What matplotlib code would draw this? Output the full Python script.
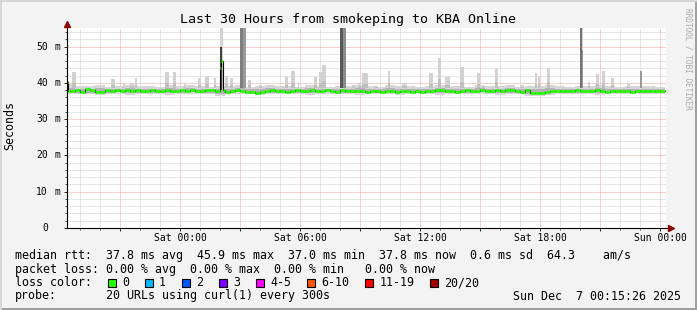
import numpy as np
import matplotlib
matplotlib.use('Agg')
import matplotlib.pyplot as plt
from matplotlib.patches import Rectangle
import matplotlib.transforms as mtransforms

W, H = 697, 310

title = "Last 30 Hours from smokeping to KBA Online"
y_label = "Seconds"
watermark = "RRDTOOL / TOBI OETIKER"
x_tick_hours = [0, 6, 12, 18, 24]
x_tick_labels = ["Sat 00:00", "Sat 06:00", "Sat 12:00", "Sat 18:00", "Sun 00:00"]
y_tick_values = [0, 10, 20, 30, 40, 50]
y_tick_numbers = ["0", "10", "20", "30", "40", "50"]
y_tick_units = ["", "m", "m", "m", "m", "m"]

# time in hours relative to Sat 00:00
t_start = -5.75
median_step = 0.25
median_ms = [
    37.8, 37.7, 37.9, 37.6, 38.4, 37.9, 37.4, 37.6, 37.9, 37.8,
    38.0, 37.7, 37.9, 37.8, 37.9, 37.7, 37.8, 38.0, 37.8, 37.7,
    37.9, 37.8, 37.7, 38.0, 37.8, 37.9, 37.8, 37.7, 38.0, 37.9,
    37.8, 37.9, 37.6, 37.8, 37.9, 37.7, 37.6, 37.5, 37.1, 37.6,
    37.8, 37.9, 37.7, 37.8, 37.6, 37.8, 37.9, 37.7, 37.8, 37.9,
    37.7, 37.8, 37.9, 37.8, 37.6, 37.9, 37.7, 37.8, 37.8, 37.7,
    37.6, 37.8, 37.7, 37.6, 37.8, 37.7, 37.6, 37.8, 37.7, 37.6,
    37.7, 37.6, 37.8, 37.7, 37.9, 38.0, 37.8, 37.7, 37.6, 37.8,
    37.9, 37.7, 37.8, 38.0, 37.8, 37.7, 37.9, 37.8, 38.1, 37.9,
    37.8, 37.6, 37.9, 37.3, 37.1, 37.2, 37.5, 37.7, 37.8, 37.7,
    37.8, 37.7, 37.9, 37.7, 37.8, 37.7, 37.9, 37.8, 37.6, 37.8,
    37.7, 37.8, 37.7, 37.6, 37.7, 37.8, 37.7, 37.8, 37.7, 37.8]
median_spike_start = [-5.75, 2.0, 2.07]
median_spike_end = [-5.6, 2.07, 2.15]
median_spike_ms = [40.3, 44.2, 45.9]

smoke_step = 0.5
smoke_max_ms = [
    39.6, 39.2, 39.0, 39.4, 38.9, 39.1, 39.5, 39.0, 39.2, 38.9,
    39.3, 39.0, 39.4, 39.1, 38.8, 39.2, 39.0, 39.3, 38.9, 39.1,
    39.4, 39.0, 39.2, 38.9, 39.3, 39.1, 38.8, 39.2, 39.0, 39.4,
    39.1, 38.9, 39.3, 39.0, 39.2, 38.8, 39.1, 39.4, 39.0, 39.2,
    38.9, 39.3, 39.1, 39.0, 39.4, 38.9, 39.2, 39.0, 39.3, 39.1,
    38.9, 39.2, 39.0, 39.3, 39.1, 38.9, 39.2, 39.0, 39.1, 38.9]
smoke_min_ms = [
    37.0, 36.8, 36.9, 36.6, 36.8, 37.0, 36.7, 36.9, 36.8, 37.0,
    36.7, 36.9, 37.0, 36.8, 36.9, 36.5, 36.8, 37.0, 36.9, 36.7,
    36.8, 37.0, 36.9, 36.8, 36.7, 36.9, 37.0, 36.8, 36.9, 36.7,
    36.9, 36.8, 37.0, 36.7, 36.9, 36.8, 36.8, 36.7, 36.8, 36.9,
    36.8, 37.0, 36.9, 36.7, 36.8, 36.9, 36.4, 36.4, 36.7, 36.8,
    36.9, 36.8, 37.0, 36.7, 36.9, 36.8, 37.0, 36.9, 36.8, 36.9]
smoke_lo_ms = [
    37.4, 37.2, 37.3, 37.1, 37.3, 37.4, 37.2, 37.3, 37.2, 37.4,
    37.2, 37.3, 37.4, 37.2, 37.3, 37.0, 37.2, 37.4, 37.3, 37.2,
    37.3, 37.4, 37.3, 37.2, 37.2, 37.3, 37.4, 37.2, 37.3, 37.2,
    37.3, 37.2, 37.4, 37.2, 37.3, 37.2, 37.2, 37.1, 37.2, 37.3,
    37.2, 37.4, 37.3, 37.2, 37.2, 37.3, 36.8, 36.8, 37.1, 37.2,
    37.3, 37.2, 37.4, 37.2, 37.3, 37.2, 37.4, 37.3, 37.2, 37.3]
smoke_hi_ms = [
    38.6, 38.4, 38.3, 38.5, 38.2, 38.4, 38.6, 38.3, 38.4, 38.2,
    38.5, 38.3, 38.6, 38.4, 38.2, 38.4, 38.3, 38.5, 38.2, 38.4,
    38.6, 38.3, 38.4, 38.2, 38.5, 38.4, 38.2, 38.4, 38.3, 38.6,
    38.4, 38.2, 38.5, 38.3, 38.4, 38.2, 38.4, 38.6, 38.3, 38.4,
    38.2, 38.5, 38.4, 38.3, 38.6, 38.2, 38.3, 38.2, 38.5, 38.4,
    38.2, 38.4, 38.3, 38.5, 38.4, 38.2, 38.4, 38.3, 38.4, 38.2]

# light smoke spikes (single slow pings)
spike_start = [-5.4, -3.45, -2.85, -2.5, -2.25, -0.75, -0.35, 0.2, 0.9, 1.25,
               1.7, 1.98, 2.25, 2.5, 3.4, 3.95, 5.25, 5.55, 5.9, 6.7,
               6.95, 7.1, 8.6, 8.9, 9.1, 9.75, 10.4, 11.1, 12.45, 12.9,
               13.25, 14.0, 14.85, 15.1, 15.75, 17.0, 17.75, 17.9, 18.35, 20.4,
               20.8, 21.1, 21.55, 22.35, 19.98]
spike_end = [-5.2, -3.25, -2.75, -2.3, -2.15, -0.55, -0.2, 0.3, 1.05, 1.45,
             1.8, 2.16, 2.4, 2.65, 3.55, 4.1, 5.4, 5.75, 5.95, 6.85,
             7.1, 7.3, 8.75, 9.05, 9.4, 9.9, 10.5, 11.35, 12.65, 13.05,
             13.5, 14.2, 15.0, 15.25, 15.9, 17.2, 17.85, 18.0, 18.5, 20.5,
             20.95, 21.25, 21.7, 22.5, 20.16]
spike_top = [43.0, 41.0, 39.6, 40.0, 41.3, 43.0, 43.0, 39.6, 41.3, 42.0,
             41.3, 60.0, 42.0, 41.3, 40.8, 39.4, 41.6, 43.2, 40.1, 41.6,
             43.0, 44.9, 39.4, 40.0, 42.6, 39.0, 43.2, 40.0, 42.6, 46.9,
             41.5, 44.4, 42.6, 39.0, 43.8, 39.4, 42.6, 42.0, 44.0, 40.3,
             42.4, 43.2, 41.3, 39.8, 60.0]

# dense smoke columns (many slow pings)
tall_start = [1.98, 3.02, 3.15, 8.02, 8.15, 19.98, 20.08, 22.98]
tall_end = [2.12, 3.15, 3.28, 8.15, 8.28, 20.08, 20.16, 23.1]
tall_bottom = [38.0, 38.6, 38.6, 38.6, 38.6, 38.6, 38.6, 38.6]
tall_top = [50.0, 60.0, 60.0, 60.0, 60.0, 60.0, 49.0, 43.2]
tall_pings = [12, 7, 5, 10, 6, 8, 5, 5]

stats_lines = [
    "median rtt:  37.8 ms avg  45.9 ms max  37.0 ms min  37.8 ms now  0.6 ms sd  64.3    am/s",
    "packet loss: 0.00 % avg  0.00 % max  0.00 % min   0.00 % now",
]
loss_title = "loss color:"
loss_labels = ["0", "1", "2", "3", "4-5", "6-10", "11-19", "20/20"]
loss_colors = ["#26ff00", "#00b8ff", "#0059ff", "#7e00ff", "#ff00ff", "#ff5500", "#ff0000", "#a10000"]
probe_label = "probe:"
probe_text = "20 URLs using curl(1) every 300s"
date_text = "Sun Dec  7 00:15:26 2025"

# ---------------------------------------------------------------
plt.rcParams['font.family'] = ['DejaVu Sans Mono', 'DejaVu Sans']
BG = '#f3f3f3'
fig = plt.figure(figsize=(W / 100, H / 100), dpi=100)
fig.patch.set_facecolor(BG)


def fx(x):
    return x / W


def fy(y):
    return 1 - y / H


ax = fig.add_axes([fx(67), fy(228), 599 / W, 200 / H])
ax.set_facecolor('white')
ax.set_xlim(-5.65, 24.3)
ax.set_ylim(0, 55.1)
for s in ax.spines.values():
    s.set_visible(False)

dot = (0, (1, 1))
for h in range(-5, 25):
    major = (h % 3 == 0)
    ax.axvline(h, color='#f2a0a0' if major else '#cccccc', lw=0.72, ls=dot, zorder=0.5)
for v in range(2, 56, 2):
    major = (v % 10 == 0)
    ax.axhline(v, color='#f2a0a0' if major else '#cccccc', lw=0.72, ls=dot, zorder=0.5)


def step_xy(start, step, vals):
    x = start + step * np.arange(len(vals) + 1)
    y = np.append(np.asarray(vals, float), vals[-1])
    return x, y


sx, smax = step_xy(t_start, smoke_step, smoke_max_ms)
_, smin = step_xy(t_start, smoke_step, smoke_min_ms)
_, slo = step_xy(t_start, smoke_step, smoke_lo_ms)
_, shi = step_xy(t_start, smoke_step, smoke_hi_ms)
ax.fill_between(sx, smin, smax, step='post', color='#d6d6d6', lw=0, zorder=1)

for a, b, top in zip(spike_start, spike_end, spike_top):
    ax.add_patch(Rectangle((a, 38.6), b - a, top - 38.6, facecolor='#d2d2d2', lw=0, zorder=1.2))
    core = 38.6 + 0.3 * (min(top, 55) - 38.6)
    ax.add_patch(Rectangle((a, 38.6), b - a, core - 38.6, facecolor='#bfbfbf', lw=0, zorder=1.3))

ax.fill_between(sx, slo, shi, step='post', color='#b3b3b3', lw=0, zorder=1.5)

for a, b, lo, top, n in zip(tall_start, tall_end, tall_bottom, tall_top, tall_pings):
    g = max(0.2, 0.85 - 0.05 * n)
    ax.add_patch(Rectangle((a, lo), b - a, top - lo, facecolor=(g, g, g), lw=0, zorder=2))

# median series (step) with spike overrides
mt = list(t_start + median_step * np.arange(len(median_ms)))
pts = {}
for t, v in zip(mt, median_ms):
    pts[round(t, 4)] = v
spike_starts_r = [round(s, 4) for s in median_spike_start]
for a, b, v in zip(median_spike_start, median_spike_end, median_spike_ms):
    idx = int(np.floor((b - t_start) / median_step + 1e-9))
    base_after = median_ms[min(idx, len(median_ms) - 1)]
    pts[round(a, 4)] = v
    if round(b, 4) not in spike_starts_r:
        pts[round(b, 4)] = base_after
times = sorted(pts)
vals = [pts[t] for t in times]
t_end_all = t_start + median_step * len(median_ms)
ax.step(times + [t_end_all], vals + [vals[-1]], where='post', color='black', lw=0.8, zorder=3)
seg_end = times[1:] + [t_end_all]
ax.hlines(vals, times, seg_end, color='#26ff00', lw=1.9, zorder=4)

# axis lines and arrows
ax.plot([0, 0], [0, 1.025], transform=ax.transAxes, color='black', lw=0.8, clip_on=False, zorder=5)
ax.plot([0, 1.006], [0, 0], transform=ax.transAxes, color='black', lw=0.8, clip_on=False, zorder=5)
ax.plot([0], [1.018], marker='^', ms=4, color='#8b0000', mec='#8b0000', transform=ax.transAxes,
        clip_on=False, zorder=6)
ax.plot([1.009], [0], marker='>', ms=4, color='#8b0000', mec='#8b0000', transform=ax.transAxes,
        clip_on=False, zorder=6)

# ticks
ax.set_xticks([h for h in range(-3, 25, 3)])
ax.set_xticks([h for h in range(-5, 25)], minor=True)
ax.set_yticks(y_tick_values)
ax.set_yticks(list(range(2, 56, 2)), minor=True)
ax.tick_params(which='major', length=2.2, width=0.72, color='#333333', labelbottom=False, labelleft=False)
ax.tick_params(which='minor', length=1.2, width=0.72, color='#555555')

blend_x = mtransforms.blended_transform_factory(ax.transData, ax.transAxes)
for h, lab in zip(x_tick_hours, x_tick_labels):
    ax.text(h, -0.052, lab, transform=blend_x, ha='center', va='center', fontsize=7.0, color='black')

blend_y = mtransforms.blended_transform_factory(ax.transAxes, ax.transData)
for v, num, unit in zip(y_tick_values, y_tick_numbers, y_tick_units):
    ax.text((47.8 - 67) / 599, v, num, transform=blend_y, ha='right', va='center', fontsize=7.0)
    if unit:
        ax.text((54.5 - 67) / 599, v, unit, transform=blend_y, ha='left', va='center', fontsize=7.0)

# texts
fig.text(fx(347.5), fy(19), title, ha='center', va='center', fontsize=9.6, color='black')
fig.text(fx(10), fy(126), y_label, rotation=90, ha='center', va='center', fontsize=8.4)
fig.text(fx(688), fy(59), watermark, rotation=270, ha='center', va='center', fontsize=5.6,
         color='#aaaaaa')

FS = 8.4
base_y = [259, 272.5, 286.2, 299.5]
for i, line in enumerate(stats_lines):
    fig.text(fx(15), fy(base_y[i]), line, ha='left', va='baseline', fontsize=FS)
fig.text(fx(15), fy(base_y[2]), loss_title, ha='left', va='baseline', fontsize=FS)
cw = 7.02
x = 108.0
for lab, col in zip(loss_labels, loss_colors):
    fig.patches.append(Rectangle((fx(x), fy(286.5)), 7.5 / W, 7.5 / H, transform=fig.transFigure,
                                 facecolor=col, edgecolor='black', lw=0.8))
    fig.text(fx(x + 14), fy(base_y[2]), lab, ha='left', va='baseline', fontsize=FS)
    x = x + 15 + len(lab) * cw + 15
fig.text(fx(15), fy(base_y[3]), probe_label, ha='left', va='baseline', fontsize=FS)
fig.text(fx(15 + 13 * cw), fy(base_y[3]), probe_text, ha='left', va='baseline', fontsize=FS)
fig.text(fx(681), fy(base_y[3]), date_text, ha='right', va='baseline', fontsize=FS)

# 3D border
fig.patches.append(Rectangle((0, 0), 1, 2 / H, transform=fig.transFigure, facecolor='#a0a0a0', lw=0))
fig.patches.append(Rectangle((1 - 2 / W, 0), 2 / W, 1, transform=fig.transFigure, facecolor='#a0a0a0', lw=0))
fig.patches.append(Rectangle((0, 1 - 2 / H), 1, 2 / H, transform=fig.transFigure, facecolor='#d6d6d6', lw=0))
fig.patches.append(Rectangle((0, 0), 2 / W, 1, transform=fig.transFigure, facecolor='#d6d6d6', lw=0))

fig.savefig('out.png', dpi=100, facecolor=BG)
